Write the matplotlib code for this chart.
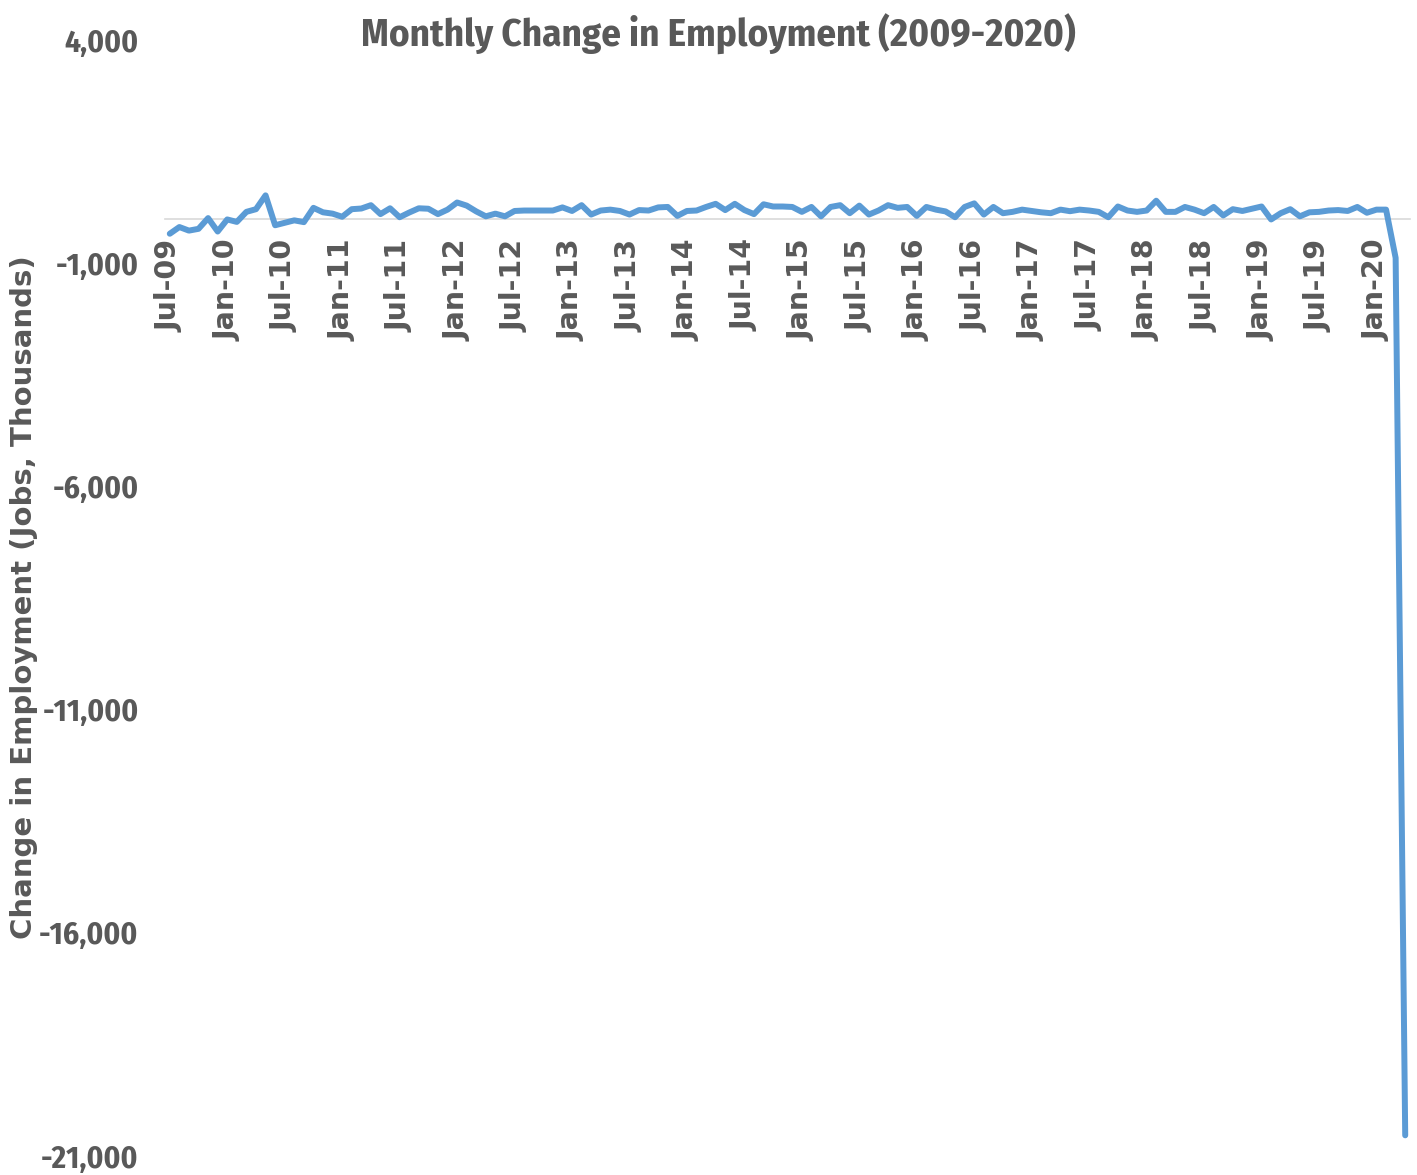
"""
Monthly change in US nonfarm employment, Jul 2009 - Apr 2020.
Excel-style line chart with the category axis sitting on the zero line.
"""

import numpy as np
import pandas as pd
import matplotlib
matplotlib.use("Agg")
import matplotlib.pyplot as plt
from matplotlib.ticker import FuncFormatter

# ---------------------------------------------------------------------------
# Data (thousands of jobs)
# ---------------------------------------------------------------------------
months = pd.date_range("2009-07-01", "2020-04-01", freq="MS")
month_labels = [d.strftime("%b-%y") for d in months]

change_2009 = [-340, -190, -270, -230, 10, -290]
change_2010 = [-20, -75, 150, 210, 520, -150, -95, -40, -80, 240, 140, 110]
change_2011 = [40, 210, 225, 300, 100, 230, 30, 135, 230, 220, 100, 200]
change_2012 = [360, 290, 160, 50, 110, 50, 170, 180, 180, 180, 180, 250]
change_2013 = [170, 300, 90, 180, 200, 170, 90, 190, 180, 250, 260, 60]
change_2014 = [170, 180, 260, 330, 190, 330, 190, 100, 320, 270, 270, 260]
change_2015 = [150, 260, 50, 260, 300, 120, 290, 90, 180, 300, 240, 260]
change_2016 = [60, 260, 200, 160, 30, 260, 340, 90, 260, 120, 150, 200]
change_2017 = [170, 140, 120, 200, 165, 200, 180, 150, 30, 270, 180, 150]
change_2018 = [180, 400, 150, 150, 260, 200, 120, 260, 70, 210, 170, 220]
change_2019 = [270, -20, 120, 210, 50, 140, 150, 180, 190, 170, 260, 130]
change_2020 = [200, 200, -881, -20537]

values = (change_2009 + change_2010 + change_2011 + change_2012 + change_2013
          + change_2014 + change_2015 + change_2016 + change_2017
          + change_2018 + change_2019 + change_2020)

y_ticks = [4000, -1000, -6000, -11000, -16000, -21000]
label_step = 6  # one category label every six months

# ---------------------------------------------------------------------------
# Figure
# ---------------------------------------------------------------------------
GREY = "#595959"
BLUE = "#5B9BD5"
NARROW = ["Fira Sans Condensed", "PT Sans Narrow", "Barlow Condensed", "DejaVu Sans"]
WIDE = ["DejaVu Sans"]

fig = plt.figure(figsize=(14.17, 11.75), dpi=100)
ax = fig.add_axes([165 / 1417, 19 / 1175, 1245 / 1417, 1116 / 1175])

x = np.arange(len(values))
ax.plot(x, values, color=BLUE, linewidth=4.3,
        solid_joinstyle="round", solid_capstyle="round", zorder=3)

ax.set_xlim(-0.5, len(values) - 0.5)
ax.set_ylim(min(y_ticks), max(y_ticks))

# category axis drawn on the zero line, like Excel
for side in ["top", "right", "left"]:
    ax.spines[side].set_visible(False)
ax.spines["bottom"].set_position(("data", 0))
ax.spines["bottom"].set_color("#D9D9D9")
ax.spines["bottom"].set_linewidth(1.2)
ax.spines["bottom"].set_zorder(1)

tick_pos = x[::label_step]
ax.set_xticks(tick_pos)
ax.set_xticklabels([month_labels[i] for i in tick_pos], rotation=90,
                   fontsize=20.5, fontweight="bold", color=GREY, family=WIDE)
ax.tick_params(axis="x", length=0, pad=15)

ax.set_yticks(y_ticks)
ax.yaxis.set_major_formatter(FuncFormatter(lambda v, _: f"{v:,.0f}"))
ax.tick_params(axis="y", length=0, pad=19)
for lbl in ax.get_yticklabels():
    lbl.set_fontsize(22.5)
    lbl.set_fontweight("bold")
    lbl.set_color(GREY)
    lbl.set_family(NARROW)

fig.text(24 / 1417, 1 - 597 / 1175, "Change in Employment (Jobs, Thousands)",
         rotation=90, ha="center", va="center", fontsize=21,
         fontweight="bold", color=GREY, family=WIDE)

fig.text(718 / 1417, 1 - 34 / 1175, "Monthly Change in Employment (2009-2020)",
         ha="center", va="center", fontsize=28, fontweight="bold",
         color=GREY, family=NARROW)

fig.savefig("out.png", dpi=100)
plt.close(fig)
